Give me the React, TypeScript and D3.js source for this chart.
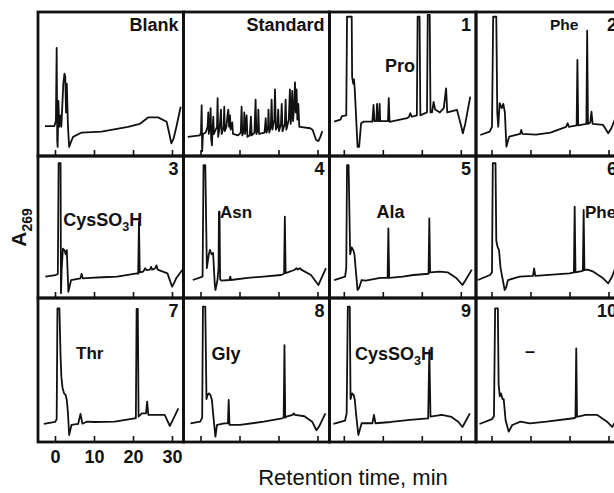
import React from 'react';
import * as d3 from 'd3';

type Pt = [number, number];

// ---------- DATA (retention time in min, absorbance as fraction of panel height) ----------
const panelTitles = ['Blank', 'Standard', '1', '2', '3', '4', '5', '6', '7', '8', '9', '10'];
const panelLabels = ['', '', 'Pro', 'Phe', 'CysSO3H', 'Asn', 'Ala', 'Phe', 'Thr', 'Gly', 'CysSO3H', '–'];
const xTicks = [0, 10, 20, 30];
const xTitle = 'Retention time, min';
const yTitleMain = 'A';
const yTitleSub = '269';

const traceBlank: Pt[] = [
  [-2.7, 0.205], [-0.3, 0.205], [0.1, 0.24], [0.3, 0.75], [0.45, 0.1], [0.55, 0.06], [0.75, 0.38],
  [0.95, 0.2], [1.2, 0.28], [1.5, 0.2], [2.0, 0.5], [2.3, 0.57], [2.5, 0.55], [2.7, 0.3],
  [2.9, 0.5], [3.2, 0.2], [3.5, 0.06], [3.9, 0.09], [4.5, 0.13], [6.7, 0.16], [11.8, 0.166],
  [18.6, 0.2], [21.6, 0.22], [23.8, 0.266], [26.3, 0.266], [28.5, 0.235], [29.2, 0.15],
  [29.7, 0.085], [30.3, 0.12], [31.0, 0.2], [32.1, 0.34],
];

const traceStandard: Pt[] = [
  [-3.4, 0.13], [-0.3, 0.14], [0.0, 0.16], [0.17, 0.35], [0.3, 0.03], [0.5, 0.15], [1.2, 0.16],
  [1.7, 0.2], [1.87, 0.3], [2.0, 0.15], [2.3, 0.2], [2.47, 0.33], [2.6, 0.12], [2.8, 0.07],
  [3.0, 0.2], [3.15, 0.27], [3.3, 0.15], [3.6, 0.17], [4.1, 0.2], [4.26, 0.4], [4.4, 0.13],
  [4.8, 0.2], [5.12, 0.32], [5.3, 0.15], [5.8, 0.2], [5.97, 0.34], [6.1, 0.17], [6.5, 0.2],
  [6.8, 0.28], [7.0, 0.32], [7.2, 0.2], [7.43, 0.28], [7.6, 0.18], [8.02, 0.23], [8.2, 0.15],
  [9.5, 0.14], [10.2, 0.16], [10.41, 0.34], [10.6, 0.14], [11.0, 0.18], [11.1, 0.3], [11.3, 0.15],
  [11.7, 0.28], [11.9, 0.13], [12.5, 0.14], [12.8, 0.27], [13.0, 0.14], [13.7, 0.16], [14.0, 0.39],
  [14.2, 0.15], [14.6, 0.18], [14.7, 0.32], [14.9, 0.15], [16.3, 0.16], [16.6, 0.26], [16.8, 0.16],
  [17.2, 0.2], [17.3, 0.32], [17.5, 0.16], [17.9, 0.2], [18.1, 0.39], [18.3, 0.18], [18.8, 0.25],
  [18.97, 0.46], [19.2, 0.18], [19.6, 0.2], [19.8, 0.32], [20.0, 0.17], [20.5, 0.22], [20.7, 0.36],
  [20.9, 0.17], [21.5, 0.22], [21.7, 0.39], [21.9, 0.18], [22.5, 0.25], [22.8, 0.46], [23.0, 0.22],
  [23.2, 0.3], [23.4, 0.45], [23.6, 0.24], [23.9, 0.35], [24.1, 0.51], [24.3, 0.3], [24.5, 0.46],
  [24.7, 0.25], [24.95, 0.36], [25.2, 0.2], [25.4, 0.2], [28.0, 0.19], [28.6, 0.18], [29.5, 0.11],
  [30.1, 0.1], [30.6, 0.13], [31.1, 0.17],
];

const trace1: Pt[] = [
  [-2.6, 0.236], [-1.0, 0.25], [-0.6, 0.275], [0.5, 0.28], [0.7, 0.967], [1.9, 0.967], [2.0, 0.55],
  [2.3, 0.5], [2.5, 0.53], [2.7, 0.45], [3.4, 0.06], [3.8, 0.06], [4.3, 0.224], [5.0, 0.236],
  [7.2, 0.236], [7.5, 0.352], [7.7, 0.24], [8.2, 0.24], [8.4, 0.36], [8.6, 0.24], [8.9, 0.24],
  [9.06, 0.36], [9.2, 0.24], [11.2, 0.24], [11.4, 0.4], [11.6, 0.235], [16.1, 0.26], [16.6, 0.27],
  [16.9, 0.295], [17.3, 0.27], [18.6, 0.28], [18.8, 0.967], [19.3, 0.967], [19.5, 0.28],
  [20.3, 0.29], [21.2, 0.3], [21.4, 0.98], [21.9, 0.98], [22.1, 0.3], [22.5, 0.3], [22.9, 0.374],
  [23.3, 0.32], [24.5, 0.3], [25.5, 0.33], [26.1, 0.468], [26.4, 0.3], [28.9, 0.318],
  [29.9, 0.213], [30.4, 0.155], [31.0, 0.22], [32.3, 0.41],
];

const trace2: Pt[] = [
  [-3.0, 0.143], [-0.6, 0.167], [0.0, 0.2], [0.3, 0.967], [1.1, 0.967], [1.35, 0.3], [1.6, 0.2],
  [1.97, 0.364], [2.5, 0.33], [2.9, 0.36], [3.3, 0.3], [3.7, 0.062], [4.4, 0.131], [7.2, 0.15],
  [7.5, 0.178], [7.8, 0.15], [11.3, 0.145], [15.0, 0.16], [19.0, 0.2], [19.4, 0.225], [19.7, 0.2],
  [21.7, 0.21], [21.9, 0.666], [22.1, 0.21], [24.2, 0.22], [24.4, 0.87], [24.6, 0.22], [25.2, 0.23],
  [25.5, 0.306], [25.8, 0.22], [28.5, 0.213], [29.8, 0.155], [30.6, 0.19], [31.5, 0.25],
];

const trace3: Pt[] = [
  [-2.6, 0.139], [0.0, 0.15], [0.6, 0.16], [0.8, 0.955], [1.3, 0.955], [1.4, 0.02], [1.6, 0.2],
  [1.9, 0.34], [2.3, 0.33], [2.6, 0.3], [2.9, 0.33], [3.3, 0.03], [4.0, 0.115], [6.4, 0.127],
  [6.7, 0.16], [7.0, 0.127], [9.0, 0.13], [12.0, 0.135], [15.8, 0.139], [20.9, 0.163],
  [21.2, 0.16], [21.4, 0.535], [21.6, 0.17], [22.5, 0.175], [23.0, 0.2], [23.3, 0.187],
  [24.2, 0.19], [24.5, 0.21], [24.8, 0.19], [25.6, 0.2], [25.9, 0.22], [26.2, 0.19],
  [28.7, 0.163], [29.9, 0.067], [30.5, 0.1], [31.0, 0.13], [32.5, 0.187],
];

const trace4: Pt[] = [
  [-2.1, 0.115], [0.4, 0.139], [0.65, 0.942], [1.1, 0.942], [1.5, 0.2], [2.0, 0.3], [2.3, 0.331],
  [2.7, 0.3], [3.1, 0.31], [3.5, 0.1], [3.7, 0.043], [4.2, 0.11], [4.5, 0.2], [4.6, 0.607],
  [4.75, 0.607], [4.9, 0.12], [5.3, 0.11], [7.3, 0.115], [7.5, 0.14], [7.7, 0.115], [12.0, 0.13],
  [16.0, 0.14], [20.5, 0.151], [21.3, 0.16], [21.5, 0.571], [21.7, 0.165], [23.9, 0.187],
  [24.5, 0.2], [24.8, 0.19], [25.4, 0.2], [25.7, 0.19], [28.2, 0.151], [30.1, 0.079],
  [30.6, 0.11], [32.05, 0.2],
];

const trace5: Pt[] = [
  [-2.6, 0.115], [0.2, 0.139], [0.5, 0.2], [0.7, 0.942], [1.1, 0.942], [1.5, 0.3], [1.9, 0.35],
  [2.3, 0.33], [2.6, 0.3], [2.9, 0.2], [3.4, 0.043], [3.8, 0.06], [4.45, 0.115], [5.5, 0.11],
  [9.2, 0.13], [11.1, 0.13], [11.3, 0.487], [11.5, 0.13], [15.0, 0.14], [17.7, 0.151],
  [21.6, 0.16], [21.8, 0.559], [22.0, 0.17], [24.5, 0.175], [26.5, 0.17], [28.8, 0.127],
  [30.3, 0.079], [31.0, 0.11], [32.7, 0.19],
];

const trace6: Pt[] = [
  [-3.6, 0.115], [-0.5, 0.151], [0.0, 0.17], [0.2, 0.955], [0.9, 0.955], [1.1, 0.4], [1.4, 0.355],
  [1.8, 0.33], [2.2, 0.2], [3.25, 0.043], [3.6, 0.06], [4.1, 0.115], [7.1, 0.139], [10.5, 0.145],
  [10.8, 0.199], [11.1, 0.145], [19.9, 0.163], [21.0, 0.17], [21.2, 0.643], [21.4, 0.17],
  [23.3, 0.18], [23.5, 0.619], [23.7, 0.187], [24.5, 0.19], [26.0, 0.175], [28.5, 0.127],
  [29.8, 0.091], [30.8, 0.14], [31.6, 0.2],
];

const trace7: Pt[] = [
  [-3.0, 0.126], [-0.1, 0.14], [0.3, 0.16], [0.5, 0.935], [1.0, 0.935], [1.3, 0.6], [1.5, 0.457],
  [1.8, 0.38], [2.2, 0.34], [2.6, 0.329], [2.9, 0.294], [3.2, 0.2], [3.5, 0.049], [4.1, 0.119],
  [5.8, 0.126], [6.4, 0.196], [6.9, 0.128], [8.0, 0.142], [10.0, 0.14], [15.2, 0.142],
  [20.3, 0.166], [20.6, 0.166], [20.8, 0.93], [21.1, 0.93], [21.3, 0.178], [22.1, 0.2],
  [23.2, 0.2], [23.5, 0.282], [23.8, 0.19], [28.0, 0.189], [29.3, 0.112], [30.0, 0.15],
  [31.5, 0.235],
];

const trace8: Pt[] = [
  [-2.7, 0.131], [-0.2, 0.142], [0.3, 0.17], [0.5, 0.946], [1.1, 0.946], [1.4, 0.3], [1.7, 0.33],
  [2.0, 0.34], [2.4, 0.33], [2.8, 0.294], [3.1, 0.2], [3.7, 0.037], [4.1, 0.119], [6.0, 0.13],
  [6.9, 0.13], [7.1, 0.294], [7.3, 0.12], [10.0, 0.12], [16.1, 0.142], [20.8, 0.166],
  [21.2, 0.17], [21.4, 0.678], [21.6, 0.17], [21.9, 0.178], [23.5, 0.19], [23.8, 0.2],
  [24.1, 0.19], [26.5, 0.18], [28.5, 0.142], [29.6, 0.082], [30.3, 0.11], [31.9, 0.2],
];

const trace9: Pt[] = [
  [-2.8, 0.126], [0.2, 0.15], [0.6, 0.2], [0.9, 0.946], [1.4, 0.946], [1.6, 0.3], [2.0, 0.34],
  [2.4, 0.33], [2.7, 0.294], [3.0, 0.2], [3.6, 0.049], [4.45, 0.131], [7.2, 0.131], [7.6, 0.189],
  [8.0, 0.131], [12.0, 0.14], [16.8, 0.154], [21.5, 0.165], [21.8, 0.643], [22.1, 0.178],
  [25.0, 0.19], [27.5, 0.175], [29.2, 0.142], [30.3, 0.105], [31.0, 0.14], [32.2, 0.2],
];

const trace10: Pt[] = [
  [-3.2, 0.126], [0.0, 0.16], [0.5, 0.18], [0.8, 0.935], [1.5, 0.935], [1.7, 0.4], [2.0, 0.32],
  [2.3, 0.34], [2.7, 0.3], [3.0, 0.3], [3.5, 0.15], [4.3, 0.072], [5.2, 0.119], [7.3, 0.142],
  [9.7, 0.13], [14.0, 0.142], [20.9, 0.166], [21.4, 0.17], [21.6, 0.655], [21.8, 0.178],
  [22.1, 0.178], [24.0, 0.19], [26.9, 0.19], [29.5, 0.142], [30.8, 0.105], [31.6, 0.14],
];

const traces: Pt[][] = [
  traceBlank, traceStandard, trace1, trace2, trace3, trace4,
  trace5, trace6, trace7, trace8, trace9, trace10,
];

// ---------- LAYOUT ----------
const W = 614;
const H = 493;
const colEdges = [38, 183.5, 329.5, 476, 622];
const rowEdges = [12, 156, 298, 442];
const colZero = [55.5, 201, 344.3, 492];
const pxPer10Min = 39;
const rowYRange: [number, number][] = [[155.5, 12], [296, 157], [442, 299]];
// label anchor offsets (from panel left / panel top), px
const labelOffsets: [number, number][] = [
  [0, 0], [0, 0], [55.5, 60], [74, 18],
  [25.3, 70], [36.5, 62], [47, 62], [109, 62],
  [38, 61], [28, 62], [25.5, 62], [49, 59],
];
const labelSizes = [17, 17, 18, 15.5, 18, 17, 18, 17, 17, 18, 18, 18];
const FONT = "'Liberation Sans', Arial, Helvetica, sans-serif";
const INK = '#111';

function Label({ text, x, y, size }: { text: string; x: number; y: number; size: number }) {
  if (text.includes('SO3H')) {
    const [pre] = text.split('3H');
    return (
      <text x={x} y={y} fontFamily={FONT} fontWeight="bold" fontSize={size} fill={INK}>
        <tspan>{pre}</tspan>
        <tspan fontSize={size * 0.7} dy={5}>3</tspan>
        <tspan dy={-5}>H</tspan>
      </text>
    );
  }
  return (
    <text x={x} y={y} fontFamily={FONT} fontWeight="bold" fontSize={size} fill={INK}>
      {text}
    </text>
  );
}

export default function App() {
  const panels = traces.map((tr, i) => {
    const col = i % 4;
    const row = Math.floor(i / 4);
    const left = colEdges[col];
    const right = colEdges[col + 1];
    const top = rowEdges[row];
    const bottom = rowEdges[row + 1];
    const x = d3.scaleLinear().domain([0, 10]).range([colZero[col], colZero[col] + pxPer10Min]);
    const y = d3.scaleLinear().domain([0, 1]).range(rowYRange[row]);
    const line = d3.line<Pt>().x((d) => x(d[0])).y((d) => y(d[1]));
    const clipId = `clip-${i}`;
    const [ldx, ldy] = labelOffsets[i];
    return (
      <g key={i}>
        <clipPath id={clipId}>
          <rect x={left} y={top} width={right - left} height={bottom - top} />
        </clipPath>
        <path d={line(tr) || ''} fill="none" stroke={INK} strokeWidth={1.8}
          strokeLinejoin="round" clipPath={`url(#${clipId})`} />
        {xTicks.map((t) => (
          <line key={t} x1={x(t)} x2={x(t)} y1={bottom} y2={bottom - 6} stroke={INK} strokeWidth={1.6} />
        ))}
        <rect x={left} y={top} width={right - left} height={bottom - top}
          fill="none" stroke={INK} strokeWidth={2.8} />
        <text x={right - 5} y={top + 19} textAnchor="end" fontFamily={FONT}
          fontWeight="bold" fontSize={18} fill={INK}>{panelTitles[i]}</text>
        {panelLabels[i] && (
          <Label text={panelLabels[i]} x={left + ldx} y={top + ldy} size={labelSizes[i]} />
        )}
        {row === 2 && col === 0 && xTicks.map((t) => (
          <text key={'l' + t} x={x(t)} y={463} textAnchor="middle" fontFamily={FONT}
            fontWeight="bold" fontSize={18} fill={INK}>{t}</text>
        ))}
      </g>
    );
  });

  return (
    <svg width={W} height={H} viewBox={`0 0 ${W} ${H}`}
      style={{ position: 'absolute', left: 0, top: 0, background: '#fff' }}>
      <rect x={0} y={0} width={W} height={H} fill="#fff" />
      {panels}
      <text x={353} y={485} textAnchor="middle" fontFamily={FONT} fontSize={22} fill={INK}>
        {xTitle}
      </text>
      <text transform="translate(26,227.5) rotate(-90)" textAnchor="middle"
        fontFamily={FONT} fontWeight="bold" fontSize={21} fill={INK}>
        <tspan>{yTitleMain}</tspan>
        <tspan fontSize={14} dy={6}>{yTitleSub}</tspan>
      </text>
    </svg>
  );
}
